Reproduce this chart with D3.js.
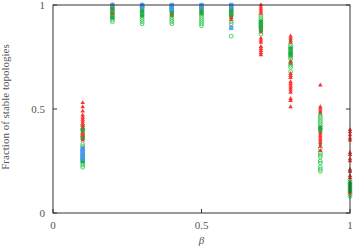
<!DOCTYPE html>
<head>
<meta http-equiv="Content-type" content="text/html;charset=UTF-8">
</head>
<style>
body { margin: 0; background: #fff; }
text { font-family: "Liberation Serif", "DejaVu Serif", serif; fill: #555; }
</style>
<svg width="355" height="249"></svg>
<script src="https://d3js.org/d3.v7.min.js"></script>
<script>

var betas = [0.1, 0.2, 0.3, 0.4, 0.5, 0.6, 0.7, 0.8, 0.9, 1.0];
var xTicks = [0, 0.5, 1];
var yTicks = [0, 0.5, 1];

// one list of values per beta, per series
var greenOpen = [
  [0.42, 0.40, 0.38, 0.37, 0.33, 0.32, 0.30, 0.28, 0.26, 0.25, 0.24, 0.23, 0.22],
  [0.99, 0.98, 0.97, 0.96, 0.95, 0.94, 0.93, 0.92],
  [0.99, 0.98, 0.97, 0.96, 0.95, 0.94, 0.93, 0.92, 0.91],
  [0.99, 0.98, 0.97, 0.95, 0.94, 0.93, 0.92, 0.91],
  [0.99, 0.98, 0.97, 0.96, 0.95, 0.94, 0.93, 0.92, 0.91, 0.90],
  [0.99, 0.98, 0.97, 0.96, 0.95, 0.92, 0.91, 0.85],
  [0.95, 0.94, 0.93, 0.92, 0.91, 0.90, 0.89, 0.86],
  [0.81, 0.80, 0.79, 0.78, 0.77, 0.76, 0.75, 0.74, 0.72, 0.71, 0.70, 0.68],
  [0.47, 0.46, 0.45, 0.44, 0.43, 0.42, 0.31, 0.29, 0.28, 0.27, 0.25, 0.24, 0.22, 0.21, 0.20],
  [0.16, 0.15, 0.14, 0.13, 0.12, 0.11, 0.10, 0.09, 0.08]
];
var redTri = [
  [0.53, 0.51, 0.49, 0.47, 0.46, 0.45, 0.44, 0.43, 0.42, 0.41, 0.39, 0.38, 0.37, 0.36, 0.35, 0.31],
  [1.0, 0.99],
  [1.0],
  [0.99],
  [0.99, 0.97],
  [0.96, 0.94, 0.93],
  [1.0, 0.99, 0.98, 0.97, 0.96, 0.88, 0.84, 0.83, 0.82, 0.80, 0.79, 0.78, 0.77, 0.76],
  [0.85, 0.84, 0.83, 0.82, 0.73, 0.67, 0.66, 0.65, 0.63, 0.62, 0.61, 0.60, 0.59, 0.58, 0.55, 0.54, 0.51],
  [0.615, 0.51, 0.50, 0.49, 0.41, 0.39, 0.38, 0.37, 0.36, 0.35, 0.34, 0.32, 0.30],
  [0.40, 0.39, 0.375, 0.36, 0.35, 0.29, 0.28, 0.26, 0.25, 0.21, 0.20, 0.18, 0.17, 0.14, 0.12, 0.10]
];
var greenFilled = [
  [0.40, 0.36, 0.27, 0.25],
  [0.98, 0.96, 0.94],
  [0.99, 0.97, 0.95],
  [0.99, 0.97, 0.96],
  [0.98, 0.96],
  [0.98, 0.97, 0.95],
  [0.92, 0.91, 0.90, 0.89, 0.88],
  [0.79, 0.77, 0.76],
  [0.41, 0.40],
  [0.14, 0.13, 0.12, 0.11]
];
var blueSq = [
  [0.31, 0.30, 0.29, 0.28, 0.27, 0.26],
  [1.0],
  [1.0, 0.99],
  [1.0, 0.99, 0.98],
  [1.0, 0.99],
  [1.0, 0.99, 0.89],
  [], [], [], []
];
var brownSq = [
  [0.41, 0.36],
  [0.96],
  [],
  [0.95],
  [],
  [0.94],
  [0.87],
  [0.83, 0.72],
  [0.48, 0.33],
  [0.20]
];

var svg = d3.select("svg"),
    margin = {top: 5, right: 5, bottom: 36, left: 53},
    width = +svg.attr("width") - margin.left - margin.right,
    height = +svg.attr("height") - margin.top - margin.bottom,
    g = svg.append("g").attr("transform", "translate(" + margin.left + "," + margin.top + ")");

var x = d3.scaleLinear().domain([0, 1]).range([0, width]);
var y = d3.scaleLinear().domain([0, 1]).range([height, 0]);

function flat(series) {
  var out = [];
  series.forEach(function(vals, i) {
    vals.forEach(function(v) { out.push({b: betas[i], v: v}); });
  });
  return out;
}

// green open circles
g.append("g").selectAll("circle")
  .data(flat(greenOpen))
  .enter().append("circle")
    .attr("cx", function(d) { return x(d.b); })
    .attr("cy", function(d) { return y(d.v); })
    .attr("r", 1.9)
    .attr("fill", "none")
    .attr("stroke", "#33cc55")
    .attr("stroke-width", 0.9);

// red triangles
var tri = d3.symbol().type(d3.symbolTriangle).size(9);
g.append("g").selectAll("path")
  .data(flat(redTri))
  .enter().append("path")
    .attr("transform", function(d) { return "translate(" + x(d.b) + "," + y(d.v) + ")"; })
    .attr("d", tri)
    .attr("fill", "#ff3333");

// darker green filled squares
g.append("g").selectAll("rect")
  .data(flat(greenFilled))
  .enter().append("rect")
    .attr("x", function(d) { return x(d.b) - 2; })
    .attr("y", function(d) { return y(d.v) - 2; })
    .attr("width", 4)
    .attr("height", 4)
    .attr("fill", "#22aa44");

// blue squares
g.append("g").selectAll("rect")
  .data(flat(blueSq))
  .enter().append("rect")
    .attr("x", function(d) { return x(d.b) - 2.2; })
    .attr("y", function(d) { return y(d.v) - 2.2; })
    .attr("width", 4.4)
    .attr("height", 4.4)
    .attr("fill", "#4499ee")
    .attr("fill-opacity", 0.85);

// brown small squares
g.append("g").selectAll("rect")
  .data(flat(brownSq))
  .enter().append("rect")
    .attr("x", function(d) { return x(d.b) - 1.5; })
    .attr("y", function(d) { return y(d.v) - 1.5; })
    .attr("width", 3)
    .attr("height", 3)
    .attr("fill", "#996633");

// frame
g.append("rect")
  .attr("x", 0).attr("y", 0)
  .attr("width", width).attr("height", height)
  .attr("fill", "none")
  .attr("stroke", "#333")
  .attr("stroke-width", 1);

// inward ticks
g.append("g").selectAll("line")
  .data(xTicks)
  .enter().append("line")
    .attr("x1", function(d) { return x(d); })
    .attr("x2", function(d) { return x(d); })
    .attr("y1", height).attr("y2", height - 4)
    .attr("stroke", "#333");
g.append("g").selectAll("line")
  .data(yTicks)
  .enter().append("line")
    .attr("x1", 0).attr("x2", 4)
    .attr("y1", function(d) { return y(d); })
    .attr("y2", function(d) { return y(d); })
    .attr("stroke", "#333");
g.append("g").selectAll("line")
  .data(yTicks)
  .enter().append("line")
    .attr("x1", width).attr("x2", width - 4)
    .attr("y1", function(d) { return y(d); })
    .attr("y2", function(d) { return y(d); })
    .attr("stroke", "#333");

// tick labels
g.append("g").selectAll("text")
  .data(xTicks)
  .enter().append("text")
    .attr("x", function(d) { return x(d); })
    .attr("y", height + 16)
    .attr("text-anchor", "middle")
    .attr("font-size", 11)
    .text(function(d) { return d; });
g.append("g").selectAll("text")
  .data(yTicks)
  .enter().append("text")
    .attr("x", -8)
    .attr("y", function(d) { return y(d); })
    .attr("dy", "0.35em")
    .attr("text-anchor", "end")
    .attr("font-size", 11)
    .text(function(d) { return d; });

// axis titles
g.append("text")
  .attr("x", x(0.5))
  .attr("y", height + 31)
  .attr("text-anchor", "middle")
  .attr("font-size", 11)
  .attr("font-style", "italic")
  .text("β");
svg.append("text")
  .attr("transform", "translate(9," + (margin.top + height / 2 - 2) + ") rotate(-90)")
  .attr("text-anchor", "middle")
  .attr("font-size", 11)
  .text("Fraction of stable topologies");

</script>
